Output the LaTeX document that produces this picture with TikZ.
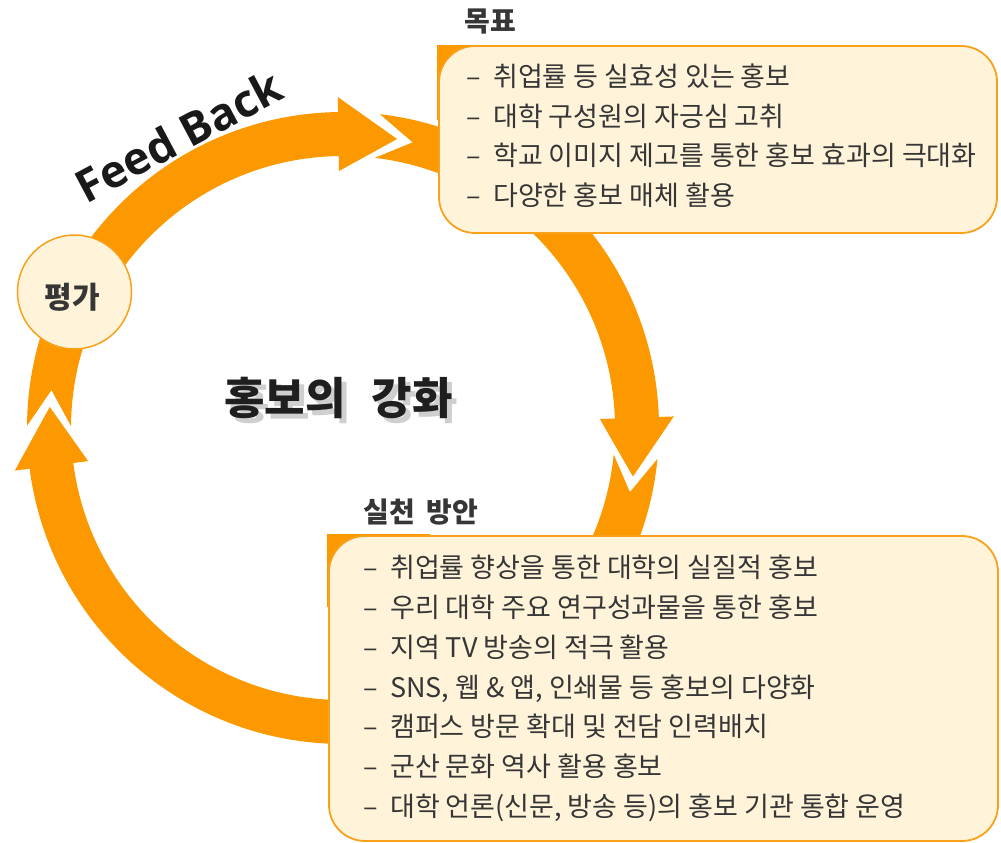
\documentclass[tikz,border=0pt]{standalone}
\usepackage{fontspec}
\setmainfont{Noto Sans CJK KR}
\newfontfamily\fbfont{Open Sans}
\usetikzlibrary{calc}
\definecolor{ringc}{HTML}{FC9900}
\definecolor{boxfill}{HTML}{FFF4D9}
\definecolor{boxline}{HTML}{F9A11B}
\definecolor{txt}{HTML}{363636}
\definecolor{shadowc}{HTML}{CFCFCF}
\newcommand{\ringseg}[2]{%
  \fill[ringc] ({#1+7}:316pt) arc[start angle={#1+7}, end angle={#2+11.5}, radius=316pt]
    -- ({#2+11.5}:331pt) -- (#2:294pt) -- ({#2+11.5}:257pt) -- ({#2+11.5}:272pt)
    arc[start angle={#2+11.5}, end angle={#1+7}, radius=272pt] -- (#1:294pt) -- cycle;}
\newcommand{\dashitem}[2]{\makebox[#1][l]{–}#2}
\begin{document}
\begin{tikzpicture}[x=1pt,y=1pt,
  item/.style={anchor=west, inner sep=0pt, text=txt, text height=21pt, text depth=3pt,
    font=\fontsize{27}{27}\selectfont},
  heading/.style={inner sep=0pt, text=txt, font=\fontsize{28}{28}\selectfont\bfseries},
  infobox/.style={draw=boxline, line width=1.8pt, fill=boxfill, rounded corners=36pt},
  cornertab/.style={fill=ringc},
  evalnode/.style={circle, draw=boxline, line width=1.5pt, fill=boxfill, minimum size=114pt, inner sep=0pt},
]
\fill[white] (0,0) rectangle (1001,843);
\useasboundingbox (0,0) rectangle (1001,843);

% ring
\begin{scope}[shift={(343,415)}]
  \ringseg{172.6}{79.4}
  \ringseg{76.3}{-9.5}
  \ringseg{-12.6}{-184.1}
\end{scope}

% goal box
\fill[cornertab] (437,798) rectangle (480,723);
\draw[infobox] (439,610) rectangle (997,797);
\node[heading] (goalhead) at (490,821) {목표};
\node[item] (g1) at (466,765) {\dashitem{27pt}{취업률 등 실효성 있는 홍보}};
\node[item] (g2) at (466,725) {\dashitem{27pt}{대학 구성원의 자긍심 고취}};
\node[item] (g3) at (466,686) {\dashitem{27pt}{학교 이미지 제고를 통한 홍보 효과의 극대화}};
\node[item] (g4) at (466,646) {\dashitem{27pt}{다양한 홍보 매체 활용}};

% action box
\fill[cornertab] (327,309) rectangle (430,236);
\draw[infobox] (329,2) rectangle (998,307);
\node[heading] (acthead) at (421,331) {실천\hspace{0.4em}방안};
\node[item] (a1) at (363,274) {\dashitem{27pt}{취업률 향상을 통한 대학의 실질적 홍보}};
\node[item] (a2) at (363,234) {\dashitem{27pt}{우리 대학 주요 연구성과물을 통한 홍보}};
\node[item] (a3) at (363,194) {\dashitem{27pt}{지역 TV 방송의 적극 활용}};
\node[item] (a4) at (363,154) {\dashitem{27pt}{SNS, 웹 \& 앱, 인쇄물 등 홍보의 다양화}};
\node[item] (a5) at (363,115) {\dashitem{27pt}{캠퍼스 방문 확대 및 전담 인력배치}};
\node[item] (a6) at (363,75) {\dashitem{27pt}{군산 문화 역사 활용 홍보}};
\node[item] (a7) at (363,35) {\dashitem{27pt}{대학 언론(신문, 방송 등)의 홍보 기관 통합 운영}};

% evaluation circle
\node[evalnode] (eval) at (74.5,551) {};
\node[inner sep=0pt, text=txt, font=\fontsize{30}{30}\selectfont\bfseries] (evaltext) at (72.5,545.5) {평가};

% feed back
\node[inner sep=0pt, rotate=28, text=black!90, font=\fbfont\fontsize{45}{45}\selectfont\bfseries] (feedback) at (178.5,707) {Feed Back};

% title
\node[inner sep=0pt, text=shadowc, font=\fontsize{44}{44}\selectfont\bfseries] (titleshadow) at (343.5,440) {홍보의\hspace{0.6em}강화};
\node[inner sep=0pt, text=black!88, font=\fontsize{44}{44}\selectfont\bfseries] (title) at (338.5,445) {홍보의\hspace{0.6em}강화};
\end{tikzpicture}
\end{document}
